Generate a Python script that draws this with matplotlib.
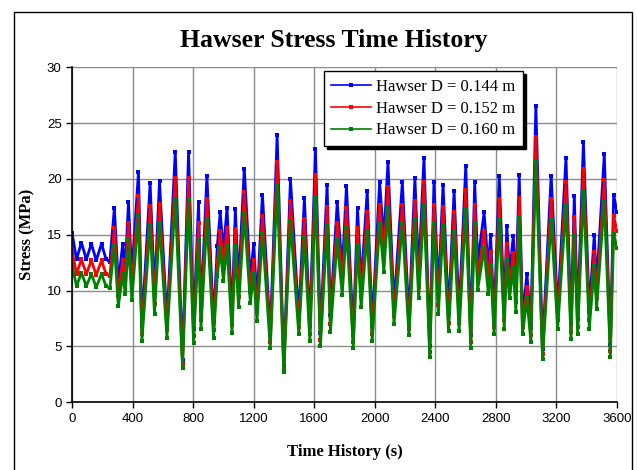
import matplotlib
matplotlib.use("Agg")
import matplotlib.pyplot as plt
from matplotlib.patches import Rectangle

# ---- data (peaks and troughs) ----
time_s = [0, 30, 62, 95, 128, 160, 195, 225, 250, 280, 306, 335, 352, 373, 395,
          439, 462, 516, 545, 578, 627, 682, 730, 770, 803, 836, 852, 891, 935,
          960, 979, 1000, 1024, 1057, 1079, 1100, 1138, 1178, 1200, 1222, 1258,
          1310, 1355, 1399, 1443, 1498, 1535, 1571, 1608, 1641, 1685, 1707, 1752,
          1785, 1813, 1858, 1886, 1910, 1950, 1983, 2032, 2060, 2087, 2127, 2182,
          2226, 2265, 2290, 2325, 2363, 2391, 2420, 2451, 2487, 2524, 2557, 2601,
          2634, 2660, 2680, 2722, 2750, 2765, 2788, 2822, 2855, 2872, 2890, 2915,
          2932, 2954, 2976, 3005, 3031, 3064, 3108, 3165, 3208, 3263, 3296, 3318,
          3340, 3378, 3417, 3450, 3465, 3516, 3556, 3578, 3600]

stress_d144 = [15.2, 12.8, 14.3, 12.8, 14.2, 12.7, 14.2, 12.8, 12.6, 17.4, 10.6, 14.2, 12.0, 17.9, 11.4,
               20.6, 6.8, 19.6, 9.8, 19.8, 7.2, 22.4, 3.8, 22.4, 6.6, 17.9, 8.2, 20.3, 7.2,
               14.0, 17.0, 13.5, 17.4, 7.7, 17.3, 10.5, 20.9, 11.0, 14.2, 9.0, 18.6,
               6.0, 23.9, 3.3, 20.0, 7.5, 18.3, 6.8, 22.7, 6.2, 19.5, 7.8, 17.9,
               11.8, 19.4, 6.0, 17.4, 10.5, 18.9, 6.8, 19.7, 14.5, 21.5, 8.6, 19.7,
               7.4, 20.1, 11.5, 21.9, 5.0, 19.7, 9.7, 19.5, 7.9, 18.9, 7.9, 21.2,
               6.0, 19.7, 12.5, 17.0, 12.0, 15.0, 7.5, 20.3, 8.2, 15.8, 11.5, 14.9,
               10.0, 20.4, 7.5, 11.5, 6.7, 26.5, 4.8, 20.3, 8.2, 21.9, 7.0, 18.5,
               7.5, 23.3, 8.2, 15.0, 10.4, 22.2, 5.1, 18.6, 17.0]

stress_d152 = [13.6, 11.5, 12.8, 11.5, 12.7, 11.4, 12.7, 11.5, 11.3, 15.6, 9.5, 12.7, 10.8, 16.1, 10.2,
               18.5, 6.1, 17.6, 8.8, 17.8, 6.5, 20.1, 3.4, 20.1, 5.9, 16.1, 7.4, 18.2, 6.5,
               12.6, 15.3, 12.1, 15.6, 6.9, 15.5, 9.4, 18.8, 9.9, 12.7, 8.1, 16.7,
               5.4, 21.5, 3.0, 18.0, 6.7, 16.4, 6.1, 20.4, 5.6, 17.5, 7.0, 16.1,
               10.6, 17.4, 5.4, 15.6, 9.4, 17.0, 6.1, 17.7, 13.0, 19.3, 7.7, 17.7,
               6.6, 18.0, 10.3, 19.7, 4.5, 17.7, 8.7, 17.5, 7.1, 17.0, 7.1, 19.0,
               5.4, 17.7, 11.2, 15.3, 10.8, 13.5, 6.7, 18.2, 7.4, 14.2, 10.3, 13.4,
               9.0, 18.3, 6.7, 10.3, 6.0, 23.8, 4.3, 18.2, 7.4, 19.7, 6.3, 16.6,
               6.7, 20.9, 7.4, 13.5, 9.3, 19.9, 4.6, 16.7, 15.3]

stress_d160 = [12.3, 10.4, 11.6, 10.4, 11.5, 10.3, 11.5, 10.4, 10.2, 14.1, 8.6, 11.5, 9.7, 14.5, 9.2,
               16.7, 5.5, 15.9, 7.9, 16.0, 5.8, 18.1, 3.1, 18.1, 5.3, 14.5, 6.6, 16.4, 5.8,
               11.3, 13.8, 10.9, 14.1, 6.2, 14.0, 8.5, 16.9, 8.9, 11.5, 7.3, 15.1,
               4.9, 19.4, 2.7, 16.2, 6.1, 14.8, 5.5, 18.4, 5.0, 15.8, 6.3, 14.5,
               9.6, 15.7, 4.9, 14.1, 8.5, 15.3, 5.5, 16.0, 11.7, 17.4, 7.0, 16.0,
               6.0, 16.3, 9.3, 17.7, 4.1, 16.0, 7.9, 15.8, 6.4, 15.3, 6.4, 17.2,
               4.9, 16.0, 10.1, 13.8, 9.7, 12.2, 6.1, 16.4, 6.6, 12.8, 9.3, 12.1,
               8.1, 16.5, 6.1, 9.3, 5.4, 21.5, 3.9, 16.4, 6.6, 17.7, 5.7, 15.0,
               6.1, 18.9, 6.6, 12.2, 8.4, 18.0, 4.1, 15.1, 13.8]

series_labels = ["Hawser D = 0.144 m", "Hawser D = 0.152 m", "Hawser D = 0.160 m"]
series_colors = ["#0000FF", "#FF0000", "#008000"]
x_ticks = [0, 400, 800, 1200, 1600, 2000, 2400, 2800, 3200, 3600]
y_ticks = [0, 5, 10, 15, 20, 25, 30]

title_text = "Hawser Stress Time History"
x_label = "Time History (s)"
y_label = "Stress (MPa)"

# ---- figure ----
W, H = 637, 470
fig = plt.figure(figsize=(W / 100, H / 100), dpi=100)
fig.patch.set_facecolor("white")

# outer chart-area border
fig.patches.append(Rectangle((14 / W, -0.05), (632 - 14) / W, (470 - 12) / H + 0.05,
                             transform=fig.transFigure, fill=False,
                             edgecolor="black", linewidth=1.0, zorder=0))

ax = fig.add_axes([72 / W, (H - 402.3) / H, (617 - 72) / W, (402.3 - 67.3) / H])

for vals, lab, col in zip([stress_d144, stress_d152, stress_d160], series_labels, series_colors):
    ax.plot(time_s, vals, color=col, linewidth=2.0, marker="s", markersize=3.0,
            markeredgewidth=0, label=lab)

ax.set_xlim(0, 3600)
ax.set_ylim(0, 30)
ax.set_xticks(x_ticks)
ax.set_yticks(y_ticks)
ax.grid(True, color="#8c8c8c", linewidth=1.0)
ax.set_axisbelow(True)

for s in ["top", "right"]:
    ax.spines[s].set_visible(False)
for s in ["left", "bottom"]:
    ax.spines[s].set_color("black")
    ax.spines[s].set_linewidth(1.2)

ax.tick_params(axis="both", direction="out", length=4, width=1, colors="black",
               labelsize=9.5)
for lbl in ax.get_xticklabels() + ax.get_yticklabels():
    lbl.set_fontfamily("Liberation Sans")

ax.set_xlabel(x_label, fontsize=12, fontweight="bold", family="Liberation Serif", labelpad=14)
ax.set_ylabel(y_label, fontsize=12, fontweight="bold", family="Liberation Serif", labelpad=8)

fig.text(334 / W, (H - 40) / H, title_text, ha="center", va="center",
         fontsize=18.5, fontweight="bold", family="Liberation Serif")

leg = ax.legend(loc="upper left", bbox_to_anchor=(0.462, 0.988), frameon=True,
                fancybox=False, shadow={"color": "black", "alpha": 1.0},
                prop={"family": "Liberation Serif", "size": 12},
                handlelength=2.4, handletextpad=0.3, labelspacing=0.35,
                borderpad=0.45, borderaxespad=0.0, numpoints=1)
for h in leg.legend_handles:
    h.set_linewidth(1.2)
    h.set_markersize(2.5)
leg.get_frame().set_edgecolor("black")
leg.get_frame().set_linewidth(1.0)
leg.get_frame().set_facecolor("white")
leg.get_frame().set_alpha(1.0)

fig.savefig("out.png", dpi=100)
